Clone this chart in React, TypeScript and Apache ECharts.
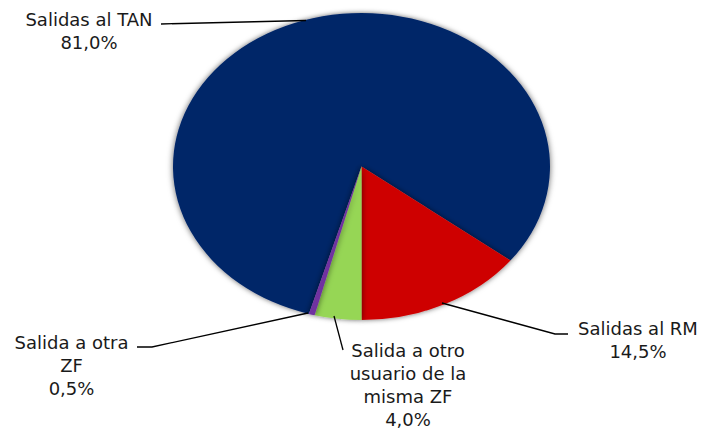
import React, { useEffect, useRef } from "react";
import * as echarts from "echarts";

// ---- data ----
const categories = [
  "Salidas al TAN",
  "Salidas al RM",
  "Salida a otro usuario de la misma ZF",
  "Salida a otra ZF",
];
const labelNames = [
  "Salidas al TAN",
  "Salidas al RM",
  "Salida a otro\nusuario de la\nmisma ZF",
  "Salida a otra\nZF",
];
const shares = [81.0, 14.5, 4.0, 0.5];
const colors = ["#062668", "#CE0606", "#96D655", "#7030A0"];

const fmtPct = (v: number) => v.toFixed(1).replace(".", ",") + "%";

// layout (pixels)
const CX = 361.5;
const CY = 166.5;
const R = 153.5;
const STRETCH = 1.228;
const FONT = '18px "DejaVu Sans"';
const LH = 23;

// label anchors: [centerX, topY]
const labelPos: [number, number][] = [
  [89, 8],
  [638, 317],
  [408, 339],
  [71.5, 331],
];
const leaderLines: [number, number][][] = [
  [
    [161, 24],
    [306, 20.5],
  ],
  [
    [442, 303],
    [555, 334],
    [568, 334],
  ],
  [
    [334, 316],
    [343, 350],
  ],
  [
    [137, 347],
    [152, 347],
    [308, 313],
  ],
];

export default function App() {
  const pieRef = useRef<HTMLDivElement>(null);
  const labRef = useRef<HTMLDivElement>(null);

  useEffect(() => {
    if (!pieRef.current || !labRef.current) return;
    const pie = echarts.init(pieRef.current, undefined, { renderer: "svg" });
    const lab = echarts.init(labRef.current, undefined, { renderer: "svg" });

    pie.setOption({
      animation: false,
      series: [
        {
          type: "pie",
          center: [CX, CY],
          radius: R,
          startAngle: 253.8,
          clockwise: true,
          label: { show: false },
          labelLine: { show: false },
          emphasis: { disabled: true },
          itemStyle: {
            borderWidth: 0,
            shadowBlur: 5,
            shadowColor: "rgba(0,0,0,0.6)",
          },
          data: categories.map((name, i) => ({
            name,
            value: shares[i],
            itemStyle: { color: colors[i] },
          })),
        },
      ],
    });

    const graphics: any[] = [];
    leaderLines.forEach((pts) => {
      graphics.push({
        type: "polyline",
        shape: { points: pts },
        style: { stroke: "#000", lineWidth: 1.3, fill: null },
        silent: true,
      });
    });
    labelNames.forEach((n, i) => {
      graphics.push({
        type: "text",
        x: labelPos[i][0],
        y: labelPos[i][1],
        style: {
          text: n + "\n" + fmtPct(shares[i]),
          font: FONT,
          fill: "#1a1a1a",
          align: "center",
          verticalAlign: "top",
          lineHeight: LH,
        },
        silent: true,
      });
    });
    lab.setOption({ animation: false, graphic: graphics });

    return () => {
      pie.dispose();
      lab.dispose();
    };
  }, []);

  return (
    <div style={{ position: "fixed", left: 0, top: 0, width: 705, height: 431, background: "#fff" }}>
      <div
        ref={pieRef}
        style={{
          position: "absolute",
          left: 0,
          top: 0,
          width: 705,
          height: 431,
          transform: `scaleX(${STRETCH})`,
          transformOrigin: `${CX}px ${CY}px`,
        }}
      />
      <div ref={labRef} style={{ position: "absolute", left: 0, top: 0, width: 705, height: 431 }} />
    </div>
  );
}
